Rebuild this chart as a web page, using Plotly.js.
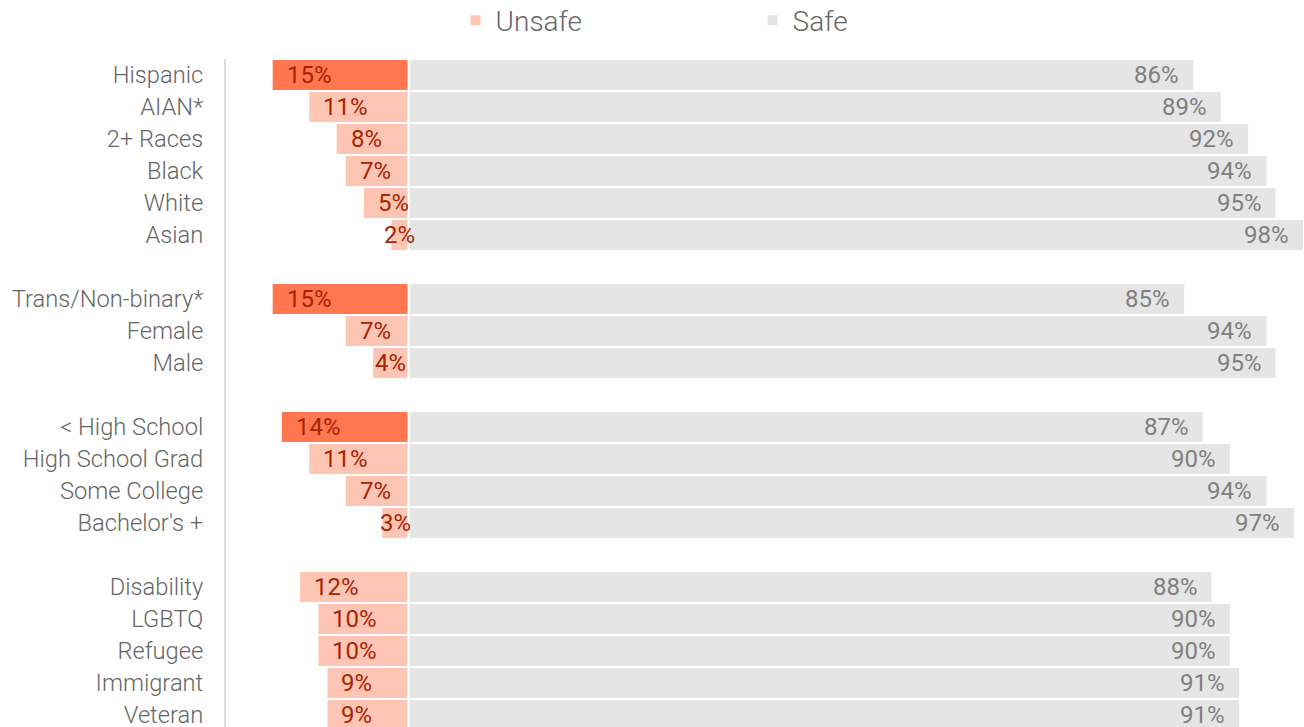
<!DOCTYPE html>
<html>
<head>
<meta charset="utf-8">
<script src="https://cdn.plot.ly/plotly-3.0.1.min.js"></script>
<style>
  html, body { margin: 0; padding: 0; background: #fff; }
  #chart { width: 1304px; height: 727px; }
</style>
</head>
<body>
<div id="chart"></div>
<script>
// ---- data ----
const groupRace = ["Hispanic", "AIAN*", "2+ Races", "Black", "White", "Asian"];
const groupGender = ["Trans/Non-binary*", "Female", "Male"];
const groupEducation = ["< High School", "High School Grad", "Some College", "Bachelor's +"];
const groupOther = ["Disability", "LGBTQ", "Refugee", "Immigrant", "Veteran"];

const unsafeRace = [15, 11, 8, 7, 5, 2];
const unsafeGender = [15, 7, 4];
const unsafeEducation = [14, 11, 7, 3];
const unsafeOther = [12, 10, 10, 9, 9];

const safeRace = [86, 89, 92, 94, 95, 98];
const safeGender = [85, 94, 95];
const safeEducation = [87, 90, 94, 97];
const safeOther = [88, 90, 90, 91, 91];

const highlighted = ["Hispanic", "Trans/Non-binary*", "< High School"];

// ---- build rows (a blank row between groups) ----
const groups = [
  [groupRace, unsafeRace, safeRace],
  [groupGender, unsafeGender, safeGender],
  [groupEducation, unsafeEducation, safeEducation],
  [groupOther, unsafeOther, safeOther]
];
const cats = [], unsafe = [], safe = [], pos = [];
let p = 0;
groups.forEach((g, gi) => {
  if (gi > 0) p += 1;
  g[0].forEach((c, i) => {
    cats.push(c); unsafe.push(g[1][i]); safe.push(g[2][i]); pos.push(p); p += 1;
  });
});

const LIGHT = "#FFC5B4", DARK = "#FF7650", GREY = "#E5E5E5";
const isHi = cats.map(c => highlighted.includes(c));

const lineStyle = { color: "#ffffff", width: 2 };

const traces = [
  {
    type: "bar", orientation: "h", name: "Unsafe",
    y: pos, x: unsafe.map((v, i) => isHi[i] ? null : -v),
    marker: { color: LIGHT, line: lineStyle },
    hoverinfo: "skip"
  },
  {
    type: "bar", orientation: "h", name: "Unsafe (highest)", showlegend: false,
    y: pos, x: unsafe.map((v, i) => isHi[i] ? -v : null),
    marker: { color: DARK, line: lineStyle },
    hoverinfo: "skip"
  },
  {
    type: "bar", orientation: "h", name: "Safe",
    y: pos, x: safe,
    marker: { color: GREY, line: lineStyle },
    hoverinfo: "skip"
  }
];

// ---- layout geometry ----
const W = 1304, H = 727;
const mL = 226, mR = 0, mT = 59, mB = 0;
const xMin = -20, xMax = 98;
const pxPerUnit = (W - mL - mR) / (xMax - xMin);
const labelSize = 24;
const rowPx = 32;

function textWidth(s, size) {
  let w = 0;
  for (const ch of s) w += (ch === "%" ? 0.74 : 0.562) * size;
  return w;
}

const annotations = [];
cats.forEach((c, i) => {
  const u = unsafe[i];
  const ut = u + "%";
  const fits = u * pxPerUnit >= textWidth(ut, labelSize) + 12;
  annotations.push({
    x: fits ? -u : -u / 2, y: pos[i], xref: "x", yref: "y",
    text: ut, showarrow: false,
    xanchor: fits ? "left" : "center", xshift: fits ? 13 : 0,
    font: { family: "Roboto, sans-serif", size: labelSize, color: "#A82400" }
  });
  annotations.push({
    x: safe[i], y: pos[i], xref: "x", yref: "y",
    text: safe[i] + "%", showarrow: false,
    xanchor: "right", xshift: -13,
    font: { family: "Roboto, sans-serif", size: labelSize, color: "#7F7F7F" }
  });
});

const layout = {
  width: W, height: H,
  margin: { l: mL, r: mR, t: mT, b: mB, pad: 0, autoexpand: false },
  paper_bgcolor: "#ffffff", plot_bgcolor: "#ffffff",
  barmode: "overlay", bargap: 0,
  showlegend: true,
  legend: {
    orientation: "h", x: 0.4885, xanchor: "center", y: 1.0575, yanchor: "middle",
    entrywidth: 252, entrywidthmode: "pixels",
    font: { family: "Roboto Light, Roboto, sans-serif", size: 28, color: "#666666", weight: 300 },
    traceorder: "normal"
  },
  xaxis: {
    range: [xMin, xMax], showgrid: false, zeroline: false, showline: false,
    showticklabels: false, ticks: "", fixedrange: true, automargin: false
  },
  yaxis: {
    range: [-0.5 + (H - mT - mB) / rowPx, -0.5],
    tickvals: pos, ticktext: cats, ticks: "",
    showgrid: false, zeroline: false, automargin: false,
    showline: true, linecolor: "#DDDDDD", linewidth: 2,
    ticklabelstandoff: 16, ticklabeloverflow: "allow",
    tickfont: { family: "Roboto Light, Roboto, sans-serif", size: 23.7, color: "#666666", weight: 300 },
    fixedrange: true
  },
  annotations: annotations,
  font: { family: "Roboto, sans-serif" }
};

Plotly.newPlot("chart", traces, layout, { displayModeBar: false, staticPlot: true });
</script>
</body>
</html>
